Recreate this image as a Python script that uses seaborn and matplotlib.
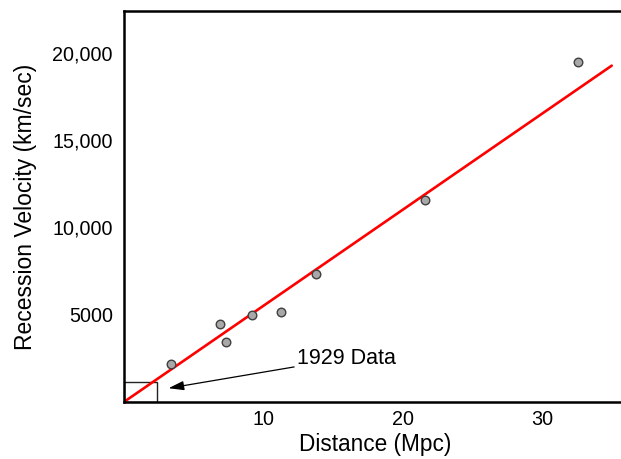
import matplotlib
matplotlib.use("Agg")
import matplotlib.pyplot as plt
import seaborn as sns
import pandas as pd
from matplotlib.patches import Rectangle

sns.set_theme(style="white")
plt.rcParams['font.family'] = ['Liberation Sans', 'DejaVu Sans']
plt.rcParams['axes.labelcolor'] = 'black'
plt.rcParams['text.color'] = 'black'

# Data
distance_mpc = [3.4, 6.9, 7.3, 9.2, 11.3, 13.8, 21.6, 32.6]
velocity_kms = [2180, 4490, 3450, 4960, 5150, 7350, 11600, 19460]
fit_x = [0, 35]
fit_y = [0, 19270]
x_ticks = [10, 20, 30]
y_ticks = [5000, 10000, 15000, 20000]
y_tick_labels = ["5000", "10,000", "15,000", "20,000"]
box_1929 = (2.4, 1150)  # width (Mpc), height (km/sec)

points = pd.DataFrame({"Distance": distance_mpc, "Velocity": velocity_kms})
fit = pd.DataFrame({"Distance": fit_x, "Velocity": fit_y})

fig = plt.figure(figsize=(6.21, 4.59), dpi=100)
ax = fig.add_axes([0.1995, 0.1242, 0.808, 0.8518])

sns.lineplot(data=fit, x="Distance", y="Velocity", color="#ff0000", linewidth=1.9, ax=ax, zorder=2)
sns.scatterplot(data=points, x="Distance", y="Velocity", s=38, color="#a8a8a8",
                edgecolor="#404040", linewidth=1.0, ax=ax, zorder=3)

ax.add_patch(Rectangle((0, 0), box_1929[0], box_1929[1], fill=False,
                       edgecolor="#222222", linewidth=1.0, zorder=1))
ax.annotate("1929 Data", xy=(3.2, 790), xytext=(12.45, 2520),
            fontsize=15.5, va="center", ha="left", color="black",
            arrowprops=dict(arrowstyle="-|>,head_length=0.6,head_width=0.18",
                            color="black", lw=0.9, shrinkA=0, shrinkB=0))

ax.set_xlim(0, 36)
ax.set_ylim(0, 22400)
ax.set_xticks(x_ticks)
ax.set_yticks(y_ticks)
ax.set_yticklabels(y_tick_labels)
ax.set_xlabel("Distance (Mpc)", fontsize=16.3, labelpad=3, color="black")
ax.set_ylabel("Recession Velocity (km/sec)", fontsize=16.5, labelpad=11, color="black")
ax.tick_params(axis="both", direction="in", length=8, width=1.5, labelsize=14.2,
               colors="black", pad=6)
ax.tick_params(axis="y", pad=8)
for sp in ax.spines.values():
    sp.set_color("black")
    sp.set_linewidth(1.8)
ax.grid(False)

fig.savefig("out.png", dpi=100)
